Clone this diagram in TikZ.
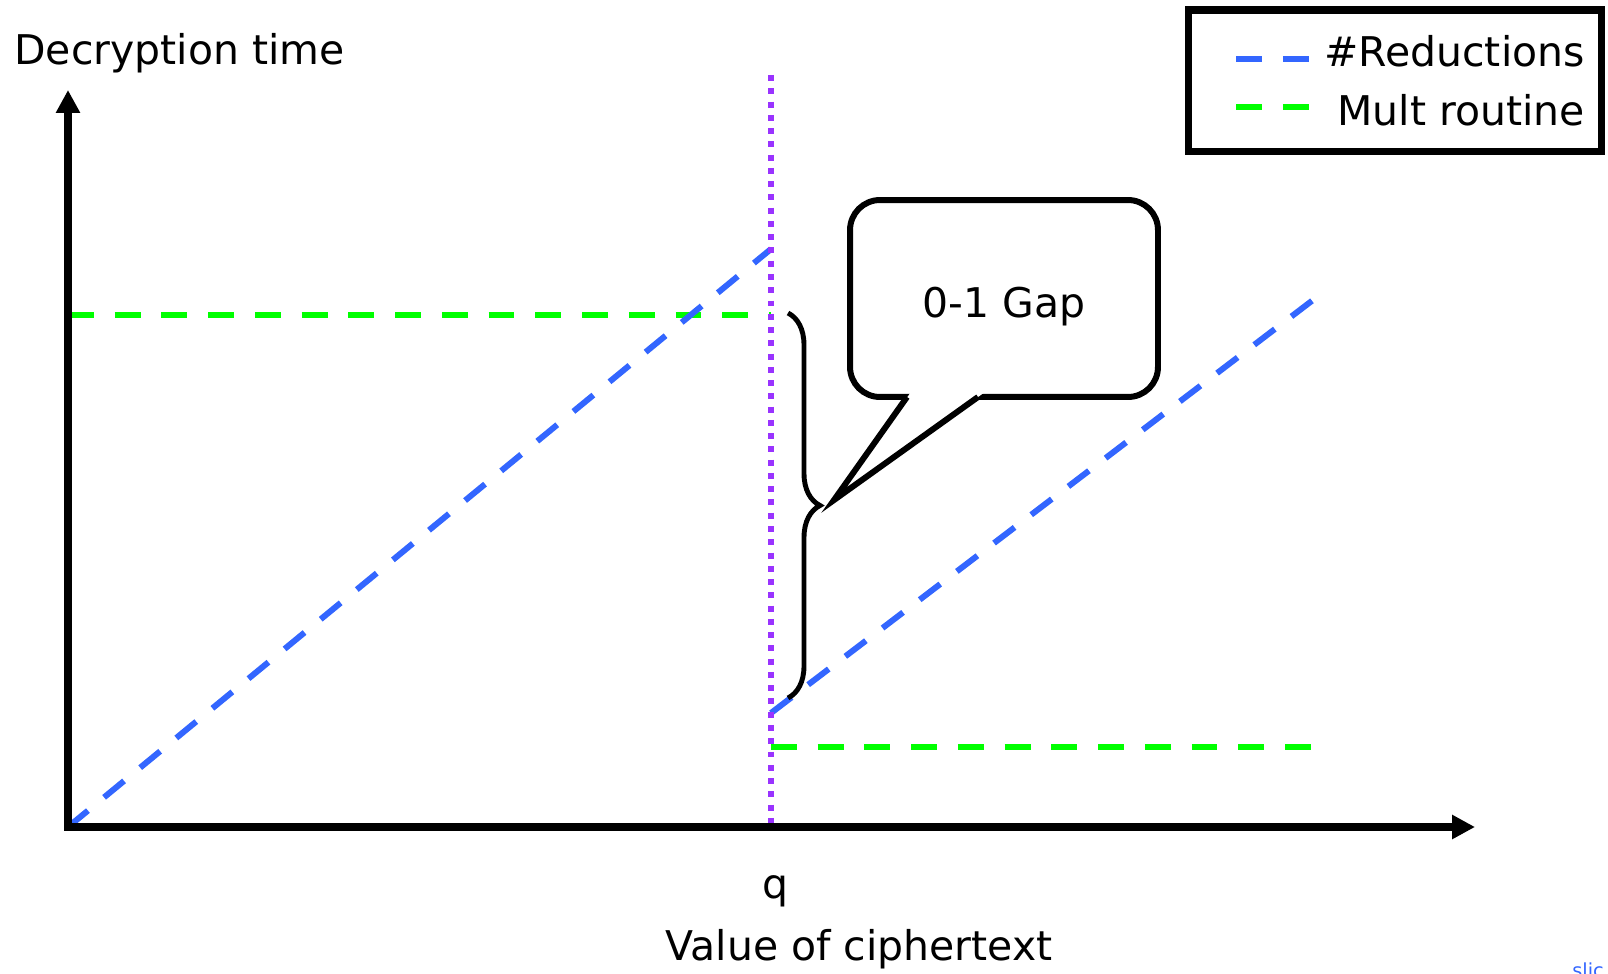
\documentclass[tikz,border=0pt]{standalone}
\usepackage{fontspec}
\setmainfont{DejaVu Sans}
\usepackage{tikz}
\usetikzlibrary{arrows.meta,decorations.pathreplacing}

\definecolor{reducblue}{HTML}{3366FF}
\definecolor{multgreen}{HTML}{00FF00}
\definecolor{qpurple}{HTML}{9933FF}

\begin{document}
\begin{tikzpicture}[x=0.02cm,y=-0.02cm,
  every node/.style={font=\fontsize{23.3}{28}\selectfont,inner sep=0pt},
  axis/.style={line width=4pt,line cap=rect,-{Triangle[length=13pt,width=13pt]}},
  reduc/.style={reducblue,line width=3.4pt,dash pattern=on 14.7pt off 11.9pt},
  mult/.style={multgreen,line width=3.4pt,dash pattern=on 14.7pt off 11.9pt},
  qline/.style={qpurple,line width=3.4pt,dash pattern=on 3.4pt off 4.15pt},
  gapbox/.style={draw,line width=3.4pt,rounded corners=0.6cm,minimum width=6.16cm,minimum height=3.94cm,fill=white}]
\useasboundingbox (0,0) rectangle (1608,973);

\coordinate (O) at (68,827);
\coordinate (xend) at (1475,827);
\coordinate (yend) at (68,90);
\coordinate (qbot) at (771,827);
\coordinate (qtop) at (771,75);

% timing curves
\draw[mult] (68,315) -- (771,315);
\draw[mult] (771,747) -- (1313,747);
\draw[reduc] (O) -- (771,249);
\draw[reduc] (771,713) -- (1313,300);
\draw[qline] (qtop) -- (qbot);

% axes
\draw[axis] (O) -- (xend);
\draw[axis] (O) -- (yend);

% the gap
\draw[line width=2.8pt,decorate,decoration={brace,amplitude=0.64cm}] (788,313) -- (788,698);
\node[gapbox] (gap) at (1004,298.5) {};
\coordinate (tip) at (834,500);
\coordinate (pl) at (907,397);
\coordinate (pr) at (978,397);
\fill[white] (911,392) -- (tip) -- (985,392) -- cycle;
\draw[line width=3.4pt,line join=miter] (pl) -- (tip) -- (pr);
\node[anchor=base] (gaplabel) at (1004,317) {0-1 Gap};

% legend
\node[draw,line width=4pt,minimum width=8.28cm,minimum height=2.84cm] (legend) at (1395,81) {};
\draw[reduc] (1236,59) -- (1309,59);
\draw[mult] (1236,107) -- (1309,107);
\node[anchor=base east] (lreduc) at (1585,67) {\#Reductions};
\node[anchor=base east] (lmult) at (1585,126) {Mult routine};

% labels
\node[anchor=base west] (ylabel) at (14,65) {Decryption time};
\node[anchor=base] (qlabel) at (775,898) {q};
\node[anchor=base] (xlabel) at (859,960) {Value of ciphertext};
\node[anchor=base west,text=reducblue,font=\fontsize{11}{12}\selectfont] (src) at (1572,977) {slic};
\end{tikzpicture}
\end{document}
